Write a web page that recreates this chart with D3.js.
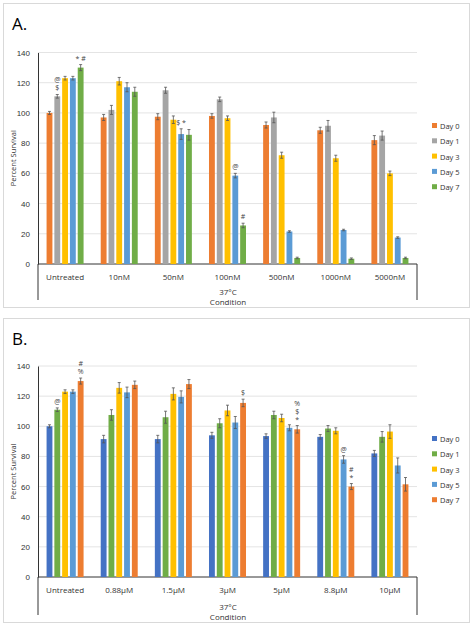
<!DOCTYPE html>
<html><head><meta charset="utf-8">
<script src="https://cdn.jsdelivr.net/npm/d3@7"></script>
<style>body{margin:0;background:#fff;font-family:"Open Sans",sans-serif}</style>
</head><body>
<svg id="chart" width="474" height="630"></svg>
<script>
const series = ['Day 0','Day 1','Day 3','Day 5','Day 7'];
const yTicks = [0,20,40,60,80,100,120,140];

const catsA = ['Untreated','10nM','50nM','100nM','500nM','1000nM','5000nM'];
const valsA = [
  [100,111,123,123,130],[97,102,121,117,114],[97.5,115,95.5,86,85.5],
  [98,109,96.5,58.5,25.5],[92,97,72,21.5,4],[88.5,91.5,70,22.5,3.5],[82,85,60,17.5,4]];
const errA = [
  [1,1.2,1.2,1.2,2],[2,3,2.5,3,3],[2,2,2.5,3.5,3.5],
  [1.5,1.5,1.5,1.5,1.5],[2,3.5,2,0.5,0.5],[2,3.5,2,0.5,0.5],[3,3,1.5,0.5,0.5]];
const colorsA = ['#ED7D31','#A5A5A5','#FFC000','#5B9BD5','#70AD47'];
const notesA = [
  {c:0,s:1,t:['@','$']},{c:0,s:4,t:['* #']},{c:2,s:3,t:['$ *']},
  {c:3,s:3,t:['@']},{c:3,s:4,t:['#']}];

const catsB = ['Untreated','0.88µM','1.5µM','3µM','5µM','8.8µM','10µM'];
const valsB = [
  [100,111,123,123,130],[91.5,107.5,125.5,122.5,127.5],[91.5,106,121.5,119.5,128],
  [94,102,110.5,102.5,115.5],[93.5,107.5,105.5,99,98],[93,98.5,97,78,60],[82,93,96.5,74,61.5]];
const errB = [
  [1,1.2,1.2,1.2,2],[2.5,3.5,3.5,3.5,2.5],[2.5,4,4,4,3],
  [2,3,3.5,4,2.5],[1.5,2.5,2.5,2,2.5],[1.5,2,2,2.5,2],[2,3.5,4.5,5,4.5]];
const colorsB = ['#4472C4','#70AD47','#FFC000','#5B9BD5','#ED7D31'];
const notesB = [
  {c:0,s:1,t:['@']},{c:0,s:4,t:['#','%']},{c:3,s:4,t:['$']},
  {c:4,s:4,t:['%','$','*']},{c:5,s:3,t:['@']},{c:5,s:4,t:['#','*']}];

const svg = d3.select('#chart');

function panel(oy, letter, cats, vals, errs, colors, notes){
  const g = svg.append('g').attr('transform',`translate(0,${oy})`);
  g.append('rect').attr('x',3.5).attr('y',3.5).attr('width',466).attr('height',304)
    .attr('fill','none').attr('stroke','#d9d9d9');
  g.append('text').attr('x',12).attr('y',30).attr('font-size',17).text(letter);
  const x = d3.scaleBand().domain(cats).range([38,417]);
  const xs = d3.scaleBand().domain(series).range([0,x.bandwidth()]).paddingInner(0.25).paddingOuter(1.1);
  const y = d3.scaleLinear().domain([0,140]).range([oy===0?264:262, oy===0?52.5:51]);
  g.append('g').selectAll('line').data(yTicks.slice(1)).join('line')
    .attr('x1',38).attr('x2',417).attr('y1',d=>y(d)).attr('y2',d=>y(d)).attr('stroke','#e4e4e4');
  const ya = g.append('g').attr('transform','translate(38,0)')
    .call(d3.axisLeft(y).tickValues(yTicks).tickSize(0).tickPadding(8));
  ya.select('.domain').attr('stroke','#333');
  ya.selectAll('text').attr('font-size',8).attr('fill','#333');
  g.append('line').attr('x1',38).attr('x2',417).attr('y1',y(0)).attr('y2',y(0)).attr('stroke','#333');
  g.append('line').attr('x1',38).attr('x2',38).attr('y1',y(0)).attr('y2',300).attr('stroke','#333');
  g.append('line').attr('x1',417).attr('x2',417).attr('y1',y(0)).attr('y2',300).attr('stroke','#333');
  g.append('g').selectAll('text').data(cats).join('text')
    .attr('x',d=>x(d)+x.bandwidth()/2).attr('y',y(0)+16).attr('text-anchor','middle')
    .attr('font-size',8).attr('fill','#333').text(d=>d);
  g.append('text').attr('x',228).attr('y',295).attr('text-anchor','middle').attr('font-size',8).attr('fill','#333').text('37°C');
  g.append('text').attr('x',228).attr('y',305).attr('text-anchor','middle').attr('font-size',8).attr('fill','#333').text('Condition');
  g.append('text').attr('transform',`translate(16,${(y(0)+y(140))/2}) rotate(-90)`)
    .attr('text-anchor','middle').attr('font-size',7.5).attr('fill','#333').text('Percent Survival');
  const grp = g.append('g').selectAll('g').data(cats).join('g')
    .attr('transform',d=>`translate(${x(d)},0)`);
  grp.selectAll('rect').data((d,i)=>vals[i].map((v,j)=>({v,j,e:errs[i][j]}))).join('rect')
    .attr('x',d=>xs(series[d.j])).attr('width',xs.bandwidth())
    .attr('y',d=>y(d.v)).attr('height',d=>y(0)-y(d.v)).attr('fill',d=>colors[d.j]);
  grp.selectAll('path').data((d,i)=>vals[i].map((v,j)=>({v,j,e:errs[i][j]}))).join('path')
    .attr('d',d=>{const cx=xs(series[d.j])+xs.bandwidth()/2,t=y(d.v+d.e),b=y(d.v-d.e);
      return `M${cx},${t}V${b}M${cx-1.5},${t}H${cx+1.5}M${cx-1.5},${b}H${cx+1.5}`;})
    .attr('stroke','#555').attr('stroke-width',0.8).attr('fill','none');
  notes.forEach(n=>{
    const cx = x(cats[n.c])+xs(series[n.s])+xs.bandwidth()/2;
    const top = y(vals[n.c][n.s]+errs[n.c][n.s]);
    n.t.slice().reverse().forEach((t,k)=>{
      g.append('text').attr('x',cx).attr('y',top-4-k*8).attr('text-anchor','middle')
        .attr('font-size',7).attr('fill','#444').text(t);
    });
  });
  const lg = g.append('g').attr('transform','translate(432,0)');
  series.forEach((s,j)=>{
    const ly = 127+j*15.3 - (oy===0?0:2);
    lg.append('rect').attr('x',0).attr('y',ly-4).attr('width',5).attr('height',5).attr('fill',colors[j]);
    lg.append('text').attr('x',8).attr('y',ly+2).attr('font-size',7.5).attr('fill','#333').text(s);
  });
}
panel(0,'A.',catsA,valsA,errA,colorsA,notesA);
panel(315,'B.',catsB,valsB,errB,colorsB,notesB);
</script>
</body></html>
